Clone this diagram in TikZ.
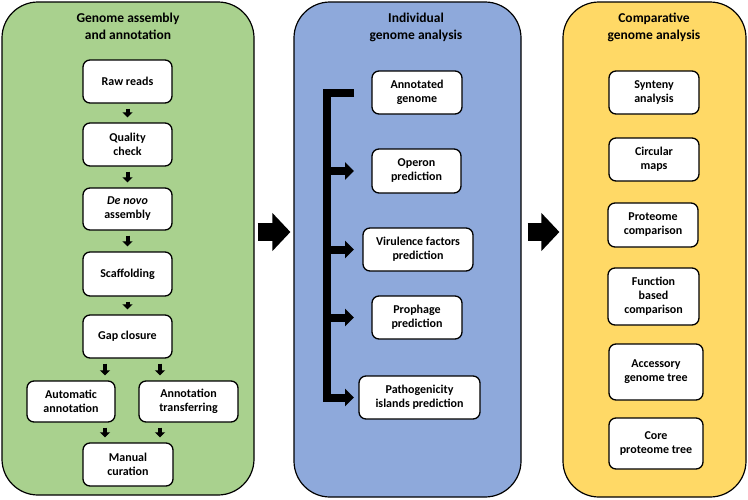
\documentclass[tikz,border=0pt]{standalone}
\usepackage{fontspec}
\setmainfont{Carlito}
\usetikzlibrary{arrows.meta,calc}
\definecolor{gcol}{HTML}{A9D18E}
\definecolor{bcol}{HTML}{8EA9DB}
\definecolor{ycol}{HTML}{FFD966}
\tikzset{
 panel/.style={draw=black, line width=1.2pt, rounded corners=36pt, inner sep=0pt},
 box/.style={draw=black, fill=white, line width=1.3pt, rounded corners=7pt, align=center, inner sep=1pt, font=\fontsize{12}{14}\selectfont\bfseries},
 ttl/.style={align=center, inner sep=0pt, font=\fontsize{13.5}{17}\selectfont\bfseries},
 smallarr/.style={line width=4pt, -{Triangle[length=5pt,width=10pt]}, shorten <=5pt, shorten >=5pt},
 bigarr/.style={line width=18pt, -{Triangle[length=18pt,width=37pt]}},
 brk/.style={line width=8pt, line join=miter},
 brkarr/.style={brk, -{Triangle[length=9pt,width=17pt]}}
}
\begin{document}
\begin{tikzpicture}[x=1pt,y=-1pt]
\useasboundingbox (0,0) rectangle (748,499);
% panels
\node[panel, fill=gcol, minimum width=252pt, minimum height=493pt] (gp) at (128,248.5) {};
\node[panel, fill=bcol, minimum width=227pt, minimum height=495pt] (bp) at (407.5,249.5) {};
\node[panel, fill=ycol, minimum width=183pt, minimum height=495pt] (yp) at (654.5,249.5) {};
% titles
\node[ttl] (gt) at (128,26.5) {Genome assembly\\and annotation};
\node[ttl] (bt) at (416,27) {Individual\\genome analysis};
\node[ttl] (yt) at (654,27.5) {Comparative\\genome analysis};
% green boxes
\node[box, minimum width=89pt, minimum height=43pt] (raw) at (127.5,81.5) {Raw reads};
\node[box, minimum width=89pt, minimum height=43pt] (qual) at (127.5,144.5) {Quality\\check};
\node[box, minimum width=89pt, minimum height=42pt] (denovo) at (127.5,209) {\textit{De novo}\\assembly};
\node[box, minimum width=89pt, minimum height=44pt] (scaf) at (127.5,274) {Scaffolding};
\node[box, minimum width=89pt, minimum height=43pt] (gap) at (127.5,336.5) {Gap closure};
\node[box, minimum width=88pt, minimum height=41pt] (auto) at (71,401.5) {Automatic\\annotation};
\node[box, minimum width=99pt, minimum height=41pt] (trans) at (188.5,401.5) {Annotation\\transferring};
\node[box, minimum width=90pt, minimum height=43pt] (manual) at (128,464.5) {Manual\\curation};
\draw[smallarr] (raw) -- (qual);
\draw[smallarr] (qual) -- (denovo);
\draw[smallarr] (denovo) -- (scaf);
\draw[smallarr] (scaf) -- (gap);
\draw[smallarr] ([xshift=-22.5pt]gap.south) -- ([xshift=-22.5pt]gap.south |- auto.north);
\draw[smallarr] ([xshift=32.5pt]gap.south) -- ([xshift=32.5pt]gap.south |- trans.north);
\draw[smallarr] ([xshift=-23pt]manual.north |- auto.south) -- ([xshift=-23pt]manual.north);
\draw[smallarr] ([xshift=32pt]manual.north |- trans.south) -- ([xshift=32pt]manual.north);
% blue boxes
\node[box, minimum width=90pt, minimum height=43pt] (ann) at (417,92.5) {Annotated\\genome};
\node[box, minimum width=89pt, minimum height=44pt] (op) at (416.5,171) {Operon\\prediction};
\node[box, minimum width=110pt, minimum height=43pt] (vir) at (418,249.5) {Virulence factors\\prediction};
\node[box, minimum width=90pt, minimum height=43pt] (pro) at (417,317.5) {Prophage\\prediction};
\node[box, minimum width=121pt, minimum height=43pt] (path) at (419.5,397.5) {Pathogenicity\\islands prediction};
\coordinate (sp) at (327,0);
\coordinate (tipx) at (354,0);
\draw[brkarr] (tipx |- ann.west) -- (sp |- ann.west) -- (sp |- path.west) -- (tipx |- path.west);
\draw[brkarr] (sp |- op.west) -- (tipx |- op.west);
\draw[brkarr] (sp |- vir.west) -- (tipx |- vir.west);
\draw[brkarr] (sp |- pro.west) -- (tipx |- pro.west);
% yellow boxes
\node[box, minimum width=90pt, minimum height=43pt] (syn) at (654,92.5) {Synteny\\analysis};
\node[box, minimum width=90pt, minimum height=43pt] (circ) at (654,159.5) {Circular\\maps};
\node[box, minimum width=90pt, minimum height=44pt] (prot) at (653,225) {Proteome\\comparison};
\node[box, minimum width=91pt, minimum height=57pt] (func) at (653.5,296.5) {Function\\based\\comparison};
\node[box, minimum width=94pt, minimum height=56pt] (acc) at (656,372) {Accessory\\genome tree};
\node[box, minimum width=94pt, minimum height=51pt] (core) at (656,443.5) {Core\\proteome tree};
% big arrows
\coordinate (ay) at (0,232);
\draw[bigarr, shorten <=3pt, shorten >=3pt] (gp.east |- ay) -- (bp.west |- ay);
\draw[bigarr, shorten <=6pt, shorten >=3pt] (bp.east |- ay) -- (yp.west |- ay);
\end{tikzpicture}
\end{document}
